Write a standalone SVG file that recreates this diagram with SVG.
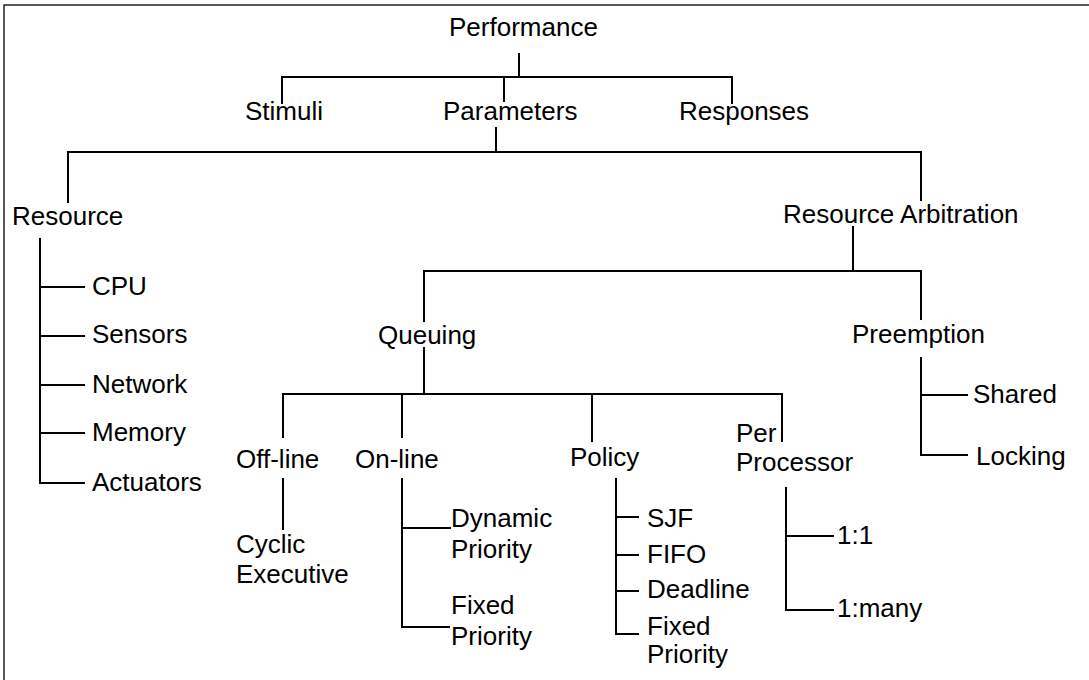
<svg xmlns="http://www.w3.org/2000/svg" width="1089" height="680" viewBox="0 0 1089 680">
<style>
text{font-family:"Liberation Sans",Arial,Helvetica,sans-serif;font-size:26px;fill:#000}
.c path{fill:none;stroke:#000;stroke-width:2}
.b{fill:none;stroke:#222;stroke-width:1.5}
</style>
<rect width="1089" height="680" fill="#fff"/>
<path class="b" d="M4,680V5H1089"/>
<g class="c" id="connectors">
<path d="M519,53V77M282,104V77H732V104M504,77V102"/>
<path d="M496,127V152M68,203V152H921V201"/>
<path d="M40,238V483H85M40,287H85M40,336H85M40,385H85M40,433H85"/>
<path d="M853,226V271M424,322V271H921V320"/>
<path d="M424,347V394M283,438V394H782V442M402,394V438M592,394V442"/>
<path d="M283,478V530"/>
<path d="M402,478V627H450M402,528H451"/>
<path d="M616,478V634H639M616,517H639M616,555H639M616,591H639"/>
<path d="M786,487V610H834M786,536H834"/>
<path d="M921,357V455H968M921,395H968"/>
</g>
<g id="performance"><text x="449" y="36">Performance</text></g>
<g id="stimuli"><text x="245" y="120">Stimuli</text></g>
<g id="parameters"><text x="443" y="120">Parameters</text></g>
<g id="responses"><text x="679" y="120">Responses</text></g>
<g id="resource"><text x="12" y="225">Resource</text></g>
<g id="resource-arbitration"><text x="783" y="223">Resource Arbitration</text></g>
<g id="cpu"><text x="92" y="295">CPU</text></g>
<g id="sensors"><text x="92" y="343">Sensors</text></g>
<g id="network"><text x="92" y="393">Network</text></g>
<g id="memory"><text x="92" y="441">Memory</text></g>
<g id="actuators"><text x="92" y="491">Actuators</text></g>
<g id="queuing"><text x="378" y="344">Queuing</text></g>
<g id="preemption"><text x="852" y="343">Preemption</text></g>
<g id="off-line"><text x="236" y="468">Off-line</text></g>
<g id="on-line"><text x="355" y="468">On-line</text></g>
<g id="policy"><text x="570" y="466">Policy</text></g>
<g id="per-processor"><text x="736" y="442">Per</text><text x="736" y="471">Processor</text></g>
<g id="cyclic-executive"><text x="236" y="553">Cyclic</text><text x="236" y="583">Executive</text></g>
<g id="dynamic-priority"><text x="451" y="527">Dynamic</text><text x="451" y="558">Priority</text></g>
<g id="fixed-priority-online"><text x="451" y="614">Fixed</text><text x="451" y="645">Priority</text></g>
<g id="sjf"><text x="647" y="527">SJF</text></g>
<g id="fifo"><text x="647" y="563">FIFO</text></g>
<g id="deadline"><text x="647" y="598">Deadline</text></g>
<g id="fixed-priority-policy"><text x="647" y="635">Fixed</text><text x="647" y="663">Priority</text></g>
<g id="shared"><text x="973" y="403">Shared</text></g>
<g id="locking"><text x="976" y="465">Locking</text></g>
<g id="one-one"><text x="837" y="544">1:1</text></g>
<g id="one-many"><text x="837" y="617">1:many</text></g>
</svg>
